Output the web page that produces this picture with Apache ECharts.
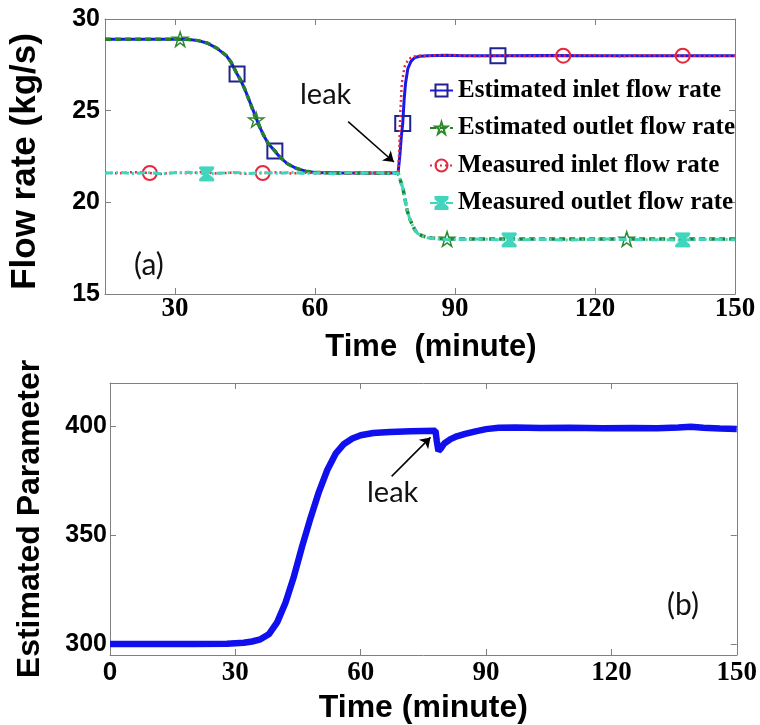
<!DOCTYPE html>
<html>
<head>
<meta charset="utf-8">
<script src="https://cdn.jsdelivr.net/npm/echarts@6/dist/echarts.min.js"></script>
<style>
  html, body { margin: 0; padding: 0; background: #fff; }
  #chart { width: 760px; height: 725px; }
</style>
</head>
<body>
<div id="chart"></div>
<script>
// ---------- Panel (a): flow rates, kg/s vs time in minutes ----------
const estInletT = [15, 20, 25, 30, 33, 35, 37, 39, 41, 42, 43.3, 44, 45, 46, 47, 48, 49, 50, 51.4, 52, 53, 54, 55, 56, 58, 60, 65, 70, 75,
  77.8, 78.2, 78.5, 78.8, 79.1, 79.4, 79.9, 80.6, 81.4, 82.5, 84.2, 88, 92, 99.2, 110, 120, 130, 140, 150];
const estInletV = [28.9, 28.9, 28.9, 28.9, 28.88, 28.82, 28.68, 28.4, 28.0, 27.65, 27.0, 26.7, 26.15, 25.5, 24.85, 24.2, 23.65, 23.2, 22.8, 22.6, 22.35, 22.12, 21.98, 21.85, 21.7, 21.63, 21.6, 21.6, 21.6,
  21.6, 22.6, 23.6, 24.3, 25.6, 26.5, 27.3, 27.7, 27.9, 27.97, 28.0, 28.02, 28.0, 28.0, 28.01, 28.0, 28.0, 28.0, 28.0];
const estInletMarks = [43.3, 51.4, 78.8, 99.2];

const estOutletT = [15, 20, 25, 30, 31.1, 33, 35, 37, 39, 41, 42, 43.3, 44, 45, 46, 47.4, 48, 49, 50, 51.4, 52, 53, 54, 55, 56, 58, 60, 65, 70, 75,
  77.8, 78.3, 78.9, 79.7, 80.3, 80.8, 81.4, 82, 83, 84, 85, 88.3, 95, 105, 115, 126.8, 135, 145, 150];
const estOutletV = [28.9, 28.9, 28.9, 28.9, 28.9, 28.88, 28.82, 28.68, 28.4, 28.0, 27.65, 27.0, 26.7, 26.15, 25.5, 24.5, 24.2, 23.65, 23.2, 22.8, 22.6, 22.35, 22.12, 21.98, 21.85, 21.7, 21.63, 21.6, 21.6, 21.6,
  21.6, 21.2, 20.7, 19.6, 19.1, 18.8, 18.5, 18.3, 18.17, 18.1, 18.05, 18.0, 18.0, 18.0, 18.0, 18.0, 18.0, 18.0, 18.0];
const estOutletMarks = [31.1, 47.4, 88.3, 126.8];

const measInletT = [15, 18, 21, 24.6, 27, 30, 33, 36, 39, 42, 45, 48.8, 52, 55, 58, 61, 64, 67, 70, 73, 76,
  77.8, 78.0, 78.3, 78.6, 79.2, 80, 81, 82.5, 84, 86, 90, 95, 100, 105, 113.2, 120, 125, 130, 138.8, 145, 150];
const measInletV = [21.62, 21.58, 21.65, 21.6, 21.55, 21.63, 21.58, 21.66, 21.57, 21.62, 21.56, 21.6, 21.64, 21.57, 21.62, 21.58, 21.63, 21.56, 21.61, 21.58, 21.63,
  21.6, 22.5, 25.0, 26.5, 27.4, 27.8, 27.95, 28.0, 27.97, 28.02, 28.03, 27.97, 28.02, 27.98, 28.0, 28.03, 27.97, 28.02, 28.0, 27.98, 28.0];
const measInletMarks = [24.6, 48.8, 113.2, 138.8];

const measOutletT = [15, 18, 21, 24, 27, 30, 33, 36.8, 40, 43, 46, 49, 52, 55, 58, 61, 64, 67, 70, 73, 76,
  77.8, 78.3, 78.9, 79.7, 80.3, 80.8, 81.4, 82, 83, 84, 86, 89, 94, 101.6, 108, 115, 122, 130, 138.8, 145, 150];
const measOutletV = [21.58, 21.63, 21.57, 21.62, 21.56, 21.61, 21.64, 21.55, 21.6, 21.63, 21.57, 21.62, 21.58, 21.64, 21.57, 21.61, 21.56, 21.62, 21.59, 21.63, 21.57,
  21.6, 21.2, 20.7, 19.6, 19.1, 18.8, 18.5, 18.3, 18.15, 18.07, 18.0, 17.96, 18.0, 17.95, 17.98, 17.94, 18.0, 17.96, 17.95, 17.99, 17.96];
const measOutletMarks = [36.8, 101.6, 138.8];

const flowTicksX = [30, 60, 90, 120, 150];
const flowTicksY = [15, 20, 25, 30];

// ---------- Panel (b): estimated parameter vs time ----------
const paramT = [0, 10, 20, 28, 32, 34, 36, 38, 40, 42, 44, 46, 48, 50, 52, 54, 56, 58, 60, 63, 67, 72,
  77.9, 78.2, 78.6, 79.2, 80, 81.5, 83, 85, 87.5, 90, 93, 97, 103, 110, 118, 125, 131, 136, 139, 142, 146, 150];
const paramV = [300, 300, 300, 300.2, 300.6, 301.2, 302.2, 304.5, 310, 319, 331, 345, 358, 370, 380, 387.5, 392, 394.5, 396, 397, 397.5, 397.8,
  398, 393.5, 388.8, 390.0, 392.2, 394.2, 395.5, 396.6, 397.8, 398.8, 399.4, 399.5, 399.3, 399.4, 399.2, 399.3, 399.2, 399.6, 399.9, 399.4, 399.1, 398.9];

const paramTicksX = [0, 30, 60, 90, 120, 150];
const paramTicksY = [300, 350, 400];

// leak annotations: arrow tail and head in data units
const leakArrowA = [[67.1, 24.4], [76.9, 22.2]];
const leakArrowB = [[67.4, 377.1], [76.7, 395.0]];

// ---------- styles ----------
const FRAME = '#808080';
const SANS = '"Liberation Sans", Arial, sans-serif';
const SERIF = '"Liberation Serif", "Times New Roman", serif';
const NOTE = 'Lato, "Open Sans", sans-serif';

const STAR = 'path://M50,2 L61,37 L98,37 L68,59 L79,95 L50,73 L21,95 L32,59 L2,37 L39,37 Z';
const HOURGLASS = 'path://M0,0 L20,0 L20,3 L12,10 L20,17 L20,20 L0,20 L0,17 L8,10 L0,3 Z';

// points carry a symbol only at the marker times
function withMarks(ts, vs, marks) {
  return ts.map((t, i) => marks.indexOf(t) >= 0
    ? { value: [t, vs[i]] }
    : { value: [t, vs[i]], symbol: 'none' });
}

function frameAxis(extra) {
  return Object.assign({
    type: 'value',
    axisLine: { show: true, onZero: false, lineStyle: { color: FRAME, width: 1 } },
    axisTick: { show: true, inside: true, length: 6, lineStyle: { color: FRAME } },
    splitLine: { show: false },
    axisLabel: { show: false }
  }, extra);
}

const names = ['Estimated inlet flow rate', 'Estimated outlet flow rate', 'Measured inlet flow rate', 'Measured outlet flow rate'];

const option = {
  animation: false,
  backgroundColor: '#fff',
  grid: [
    { left: 105, top: 19, width: 630, height: 275 },
    { left: 110, top: 383, width: 631, height: 273 }
  ],
  xAxis: [
    frameAxis({
      gridIndex: 0, min: 15, max: 150, position: 'bottom',
      axisTick: { show: true, inside: true, length: 6, lineStyle: { color: FRAME }, customValues: flowTicksX },
      axisLabel: { show: true, customValues: flowTicksX, margin: 2, color: '#000',
        fontFamily: SERIF, fontWeight: 'bold', fontSize: 27 },
      name: 'Time  (minute)', nameLocation: 'middle', nameGap: 38,
      nameTextStyle: { fontFamily: SANS, fontWeight: 'bold', fontSize: 31, color: '#000', padding: [0, 0, 0, 22] }
    }),
    frameAxis({
      gridIndex: 0, min: 15, max: 150, position: 'top',
      axisTick: { show: true, inside: true, length: 6, lineStyle: { color: FRAME }, customValues: flowTicksX }
    }),
    frameAxis({
      gridIndex: 1, min: 0, max: 150, interval: 30, position: 'bottom',
      axisLabel: { show: true, margin: 5, color: '#000',
        formatter: v => v === 0 ? '{s|0}' : '{r|' + v + '}',
        rich: {
          s: { fontFamily: SANS, fontWeight: 'bold', fontSize: 26, color: '#000' },
          r: { fontFamily: SERIF, fontWeight: 'bold', fontSize: 27, color: '#000' }
        } },
      name: 'Time (minute)', nameLocation: 'middle', nameGap: 37,
      nameTextStyle: { fontFamily: SANS, fontWeight: 'bold', fontSize: 32, color: '#000' }
    }),
    frameAxis({ gridIndex: 1, min: 0, max: 150, interval: 30, position: 'top' })
  ],
  yAxis: [
    frameAxis({
      gridIndex: 0, min: 15, max: 30, interval: 5, position: 'left',
      axisTick: { show: true, inside: true, length: 6, lineStyle: { color: FRAME }, customValues: flowTicksY },
      axisLabel: { show: true, customValues: flowTicksY, margin: 5, color: '#000',
        fontFamily: SANS, fontWeight: 'bold', fontSize: 25 },
      name: 'Flow rate (kg/s)', nameLocation: 'middle', nameGap: 62,
      nameTextStyle: { fontFamily: SANS, fontWeight: 'bold', fontSize: 35, color: '#000', padding: [0, 0, 0, -10] }
    }),
    frameAxis({
      gridIndex: 0, min: 15, max: 30, interval: 5, position: 'right',
      axisTick: { show: true, inside: true, length: 6, lineStyle: { color: FRAME }, customValues: flowTicksY }
    }),
    frameAxis({
      gridIndex: 1, min: 295, max: 420, position: 'left',
      axisTick: { show: true, inside: true, length: 6, lineStyle: { color: FRAME }, customValues: paramTicksY },
      axisLabel: { show: true, customValues: paramTicksY, margin: 3, color: '#000',
        fontFamily: SANS, fontWeight: 'bold', fontSize: 25 },
      name: 'Estimated Parameter', nameLocation: 'middle', nameGap: 64,
      nameTextStyle: { fontFamily: SANS, fontWeight: 'bold', fontSize: 32, color: '#000' }
    }),
    frameAxis({
      gridIndex: 1, min: 295, max: 420, position: 'right',
      axisTick: { show: true, inside: true, length: 6, lineStyle: { color: FRAME }, customValues: paramTicksY }
    })
  ],
  legend: {
    data: names,
    orient: 'vertical',
    left: 424, top: 73,
    itemWidth: 23, itemHeight: 15, itemGap: 12.5,
    textStyle: { fontFamily: SERIF, fontWeight: 'bold', fontSize: 25, color: '#000' }
  },
  series: [
    {
      name: names[0], type: 'line', xAxisIndex: 0, yAxisIndex: 0, z: 3,
      data: withMarks(estInletT, estInletV, estInletMarks),
      showAllSymbol: true, symbol: 'rect', symbolSize: 15,
      lineStyle: { color: '#1a1ae8', width: 3 },
      itemStyle: { color: 'rgba(255,255,255,0)', borderColor: '#22228c', borderWidth: 2 },
      markLine: {
        silent: true, symbol: ['none', 'arrow'], symbolSize: 10,
        label: { show: false },
        lineStyle: { color: '#000', width: 1.5, type: 'solid' },
        data: [[{ coord: leakArrowA[0] }, { coord: leakArrowA[1] }]]
      }
    },
    {
      name: names[1], type: 'line', xAxisIndex: 0, yAxisIndex: 0, z: 4,
      data: withMarks(estOutletT, estOutletV, estOutletMarks),
      showAllSymbol: true, symbol: STAR, symbolSize: 15, symbolKeepAspect: true,
      lineStyle: { color: '#25802a', width: 3.5, type: [6, 4] },
      itemStyle: { color: 'rgba(255,255,255,0)', borderColor: '#2d8a2d', borderWidth: 1.5 }
    },
    {
      name: names[2], type: 'line', xAxisIndex: 0, yAxisIndex: 0, z: 5,
      data: withMarks(measInletT, measInletV, measInletMarks),
      showAllSymbol: true, symbol: 'circle', symbolSize: 14,
      lineStyle: { color: '#e8283c', width: 2.5, type: [2, 3] },
      itemStyle: { color: 'rgba(255,255,255,0)', borderColor: '#e8283c', borderWidth: 2 }
    },
    {
      name: names[3], type: 'line', xAxisIndex: 0, yAxisIndex: 0, z: 6,
      data: withMarks(measOutletT, measOutletV, measOutletMarks),
      showAllSymbol: true, symbol: HOURGLASS, symbolSize: 14, symbolKeepAspect: true,
      lineStyle: { color: '#3fd6bd', width: 3, type: [8, 3, 2, 3] },
      itemStyle: { color: '#3fd6bd', borderColor: '#3fd6bd', borderWidth: 1 }
    },
    {
      name: 'Estimated Parameter', type: 'line', xAxisIndex: 2, yAxisIndex: 2,
      data: paramT.map((t, i) => [t, paramV[i]]),
      showSymbol: false, symbol: 'none',
      lineStyle: { color: '#1010ee', width: 6.5 },
      markLine: {
        silent: true, symbol: ['none', 'arrow'], symbolSize: 10,
        label: { show: false },
        lineStyle: { color: '#000', width: 1.5, type: 'solid' },
        data: [[{ coord: leakArrowB[0] }, { coord: leakArrowB[1] }]]
      }
    }
  ],
  graphic: [
    { type: 'text', left: 300, top: 80, style: { text: 'leak', font: '29px ' + NOTE, fill: '#111' } },
    { type: 'text', left: 134, top: 250, style: { text: '(a)', font: '30px ' + NOTE, fill: '#111' } },
    { type: 'text', left: 367, top: 478, style: { text: 'leak', font: '29px ' + NOTE, fill: '#111' } },
    { type: 'text', left: 667, top: 590, style: { text: '(b)', font: '30px ' + NOTE, fill: '#111' } }
  ]
};

const chart = echarts.init(document.getElementById('chart'));
chart.setOption(option);
</script>
</body>
</html>
